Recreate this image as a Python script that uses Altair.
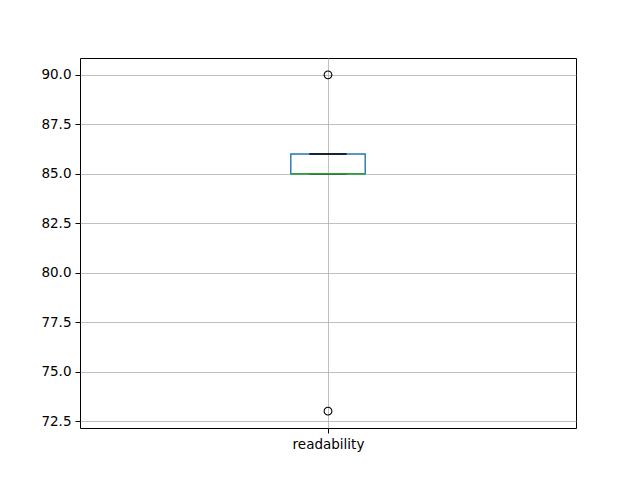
import altair as alt
import pandas as pd

categories = ["readability"]
positions = [1]
q1 = [85.0]
median = [85.0]
q3 = [86.0]
whisker_low = [85.0]
whisker_high = [86.0]
outliers = [73.0, 90.0]

box_half = 0.075
cap_half = 0.0375

box_df = pd.DataFrame({
    "cat": categories,
    "pos": positions,
    "x1": [p - box_half for p in positions],
    "x2": [p + box_half for p in positions],
    "c1": [p - cap_half for p in positions],
    "c2": [p + cap_half for p in positions],
    "q1": q1, "median": median, "q3": q3,
    "lo": whisker_low, "hi": whisker_high,
})
out_df = pd.DataFrame({"pos": [positions[0]] * len(outliers), "val": outliers})

xscale = alt.Scale(domain=[0.5, 1.5], nice=False, zero=False)
yscale = alt.Scale(domain=[72.15, 90.85], nice=False, zero=False)

xaxis = alt.Axis(values=positions, labelExpr="'readability'", title=None, grid=True,
                 gridColor="#b0b0b0", gridWidth=0.8, tickColor="black", tickSize=5,
                 labelFontSize=13.5, labelColor="black", labelFont="DejaVu Sans",
                 domain=False, labelPadding=4)
yaxis = alt.Axis(values=[72.5, 75, 77.5, 80, 82.5, 85, 87.5, 90], format=".1f", title=None,
                 grid=True, gridColor="#b0b0b0", gridWidth=0.8, tickColor="black", tickSize=5,
                 labelFontSize=13.5, labelColor="black", labelFont="DejaVu Sans",
                 domain=False, labelPadding=4)

base = alt.Chart(box_df)

grid = alt.Chart(box_df).mark_point(opacity=0).encode(
    x=alt.X("pos:Q", scale=xscale, axis=xaxis),
    y=alt.Y("median:Q", scale=yscale, axis=yaxis),
)

whisk_hi = base.mark_rule(color="black", strokeWidth=1.2).encode(
    x=alt.X("pos:Q", scale=xscale), y=alt.Y("q3:Q", scale=yscale), y2="hi:Q")
whisk_lo = base.mark_rule(color="black", strokeWidth=1.2).encode(
    x=alt.X("pos:Q", scale=xscale), y=alt.Y("lo:Q", scale=yscale), y2="q1:Q")
cap_hi = base.mark_rule(color="black", strokeWidth=1.4).encode(
    x=alt.X("c1:Q", scale=xscale), x2="c2:Q", y=alt.Y("hi:Q", scale=yscale))
cap_lo = base.mark_rule(color="black", strokeWidth=1.4).encode(
    x=alt.X("c1:Q", scale=xscale), x2="c2:Q", y=alt.Y("lo:Q", scale=yscale))
box = base.mark_rect(fill=None, stroke="#1f77b4", strokeWidth=1.4).encode(
    x=alt.X("x1:Q", scale=xscale), x2="x2:Q",
    y=alt.Y("q1:Q", scale=yscale), y2="q3:Q")
med = base.mark_rule(color="#2ca02c", strokeWidth=1.4).encode(
    x=alt.X("x1:Q", scale=xscale), x2="x2:Q", y=alt.Y("median:Q", scale=yscale))
pts = alt.Chart(out_df).mark_point(shape="circle", filled=False, color="black",
                                   size=60, strokeWidth=1.1, opacity=1).encode(
    x=alt.X("pos:Q", scale=xscale), y=alt.Y("val:Q", scale=yscale))

chart = alt.layer(grid, box, whisk_hi, whisk_lo, cap_hi, cap_lo, med, pts).properties(
    width=496, height=370,
    autosize=alt.AutoSizeParams(type="none"),
    padding={"left": 72, "top": 50, "right": 56, "bottom": 45},
    background="white",
).configure_view(stroke="black", strokeWidth=1)

chart.save("out.html", embed_options={"renderer": "svg", "actions": False})
